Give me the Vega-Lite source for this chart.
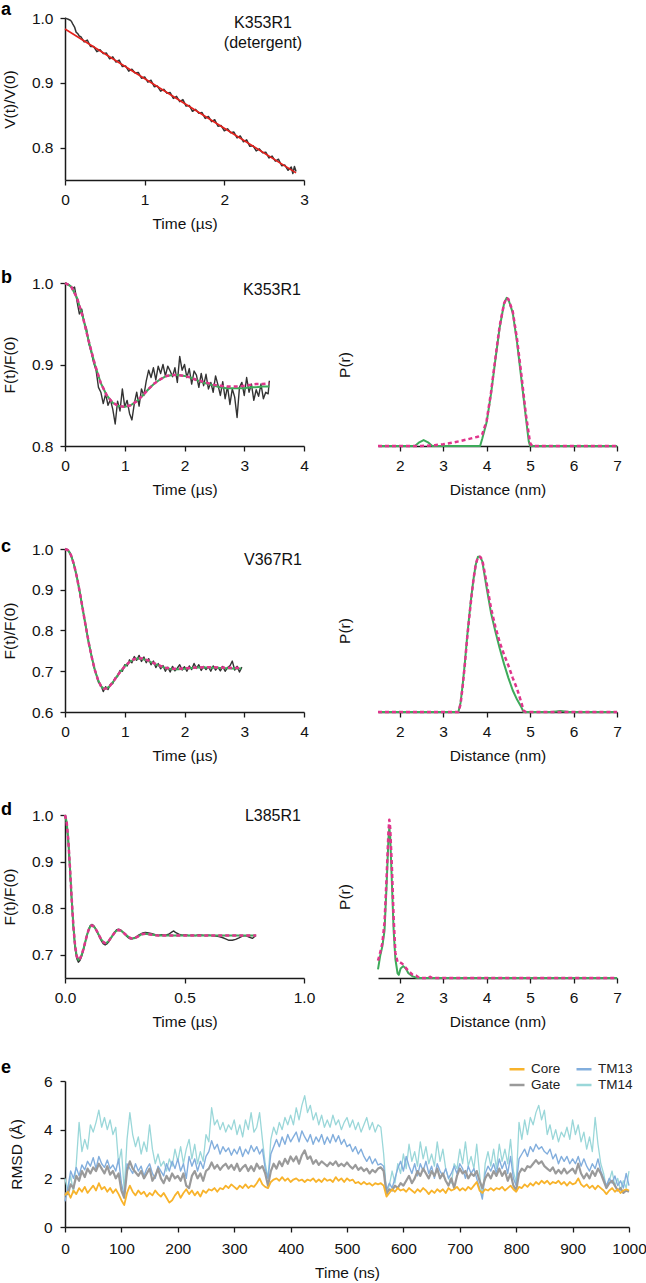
{
"$schema": "https://vega.github.io/schema/vega-lite/v6.json",
"padding": {"left": 1, "top": 1, "right": 0, "bottom": 0},
"background": "white",
"columns": 2,
"bounds": "flush",
"align": "each",
"spacing": {"row": 103, "column": 74},
"resolve": {"scale": {"color": "independent"}, "legend": {"color": "independent"}},
"config": {
  "font": "Liberation Sans",
  "view": {"stroke": null},
  "axis": {"grid": false, "domainColor": "#1a1a1a", "domainWidth": 1.5, "tickColor": "#1a1a1a", "tickWidth": 1.3, "tickSize": 5, "labelFont": "Liberation Sans", "labelFontSize": 15.5, "labelColor": "#111", "labelPadding": 7, "labelFlush": false, "labelOverlap": false, "titleFont": "Liberation Sans", "titleFontSize": 15.5, "titleFontWeight": "normal", "titleColor": "#111", "titlePadding": 9},
  "axisY": {"titlePadding": 14},
  "text": {"font": "Liberation Sans", "fontSize": 16, "color": "#111"},
  "line": {"strokeJoin": "round"},
  "title": {"anchor": "start", "frame": "group", "dx": -64, "fontSize": 18, "fontWeight": "bold", "font": "Liberation Sans", "color": "#000"}
},
"datasets": {
  "a_trace": [{"x":0,"y":1.0},{"x":0.02,"y":0.999},{"x":0.04,"y":0.998},{"x":0.06,"y":0.997},{"x":0.08,"y":0.995},{"x":0.1,"y":0.99},{"x":0.12,"y":0.986},{"x":0.14,"y":0.978},{"x":0.16,"y":0.976},{"x":0.18,"y":0.972},{"x":0.2,"y":0.971},{"x":0.24,"y":0.963},{"x":0.28,"y":0.966},{"x":0.32,"y":0.956},{"x":0.36,"y":0.956},{"x":0.4,"y":0.948},{"x":0.44,"y":0.951},{"x":0.48,"y":0.945},{"x":0.52,"y":0.946},{"x":0.56,"y":0.937},{"x":0.6,"y":0.94},{"x":0.64,"y":0.932},{"x":0.68,"y":0.935},{"x":0.72,"y":0.925},{"x":0.76,"y":0.926},{"x":0.8,"y":0.918},{"x":0.84,"y":0.921},{"x":0.88,"y":0.915},{"x":0.92,"y":0.916},{"x":0.96,"y":0.907},{"x":1.0,"y":0.909},{"x":1.04,"y":0.901},{"x":1.08,"y":0.904},{"x":1.12,"y":0.894},{"x":1.16,"y":0.895},{"x":1.2,"y":0.887},{"x":1.24,"y":0.89},{"x":1.28,"y":0.884},{"x":1.32,"y":0.885},{"x":1.36,"y":0.876},{"x":1.4,"y":0.879},{"x":1.44,"y":0.871},{"x":1.48,"y":0.874},{"x":1.52,"y":0.864},{"x":1.56,"y":0.865},{"x":1.6,"y":0.856},{"x":1.64,"y":0.859},{"x":1.68,"y":0.853},{"x":1.72,"y":0.854},{"x":1.76,"y":0.845},{"x":1.8,"y":0.848},{"x":1.84,"y":0.84},{"x":1.88,"y":0.843},{"x":1.92,"y":0.833},{"x":1.96,"y":0.834},{"x":2.0,"y":0.826},{"x":2.04,"y":0.829},{"x":2.08,"y":0.823},{"x":2.12,"y":0.824},{"x":2.16,"y":0.815},{"x":2.2,"y":0.818},{"x":2.24,"y":0.809},{"x":2.28,"y":0.812},{"x":2.32,"y":0.802},{"x":2.36,"y":0.803},{"x":2.4,"y":0.795},{"x":2.44,"y":0.798},{"x":2.48,"y":0.792},{"x":2.52,"y":0.793},{"x":2.56,"y":0.784},{"x":2.6,"y":0.787},{"x":2.64,"y":0.779},{"x":2.68,"y":0.782},{"x":2.72,"y":0.772},{"x":2.76,"y":0.773},{"x":2.8,"y":0.765},{"x":2.84,"y":0.77},{"x":2.86,"y":0.76},{"x":2.88,"y":0.771},{"x":2.9,"y":0.763}],
  "a_fit": [{"x":0,"y":0.983},{"x":2.9,"y":0.761}],
  "b_trace": [{"x":0,"y":1.0},{"x":0.04,"y":0.999},{"x":0.08,"y":0.997},{"x":0.12,"y":0.993},{"x":0.16,"y":0.995},{"x":0.2,"y":0.978},{"x":0.24,"y":0.962},{"x":0.28,"y":0.968},{"x":0.32,"y":0.952},{"x":0.36,"y":0.944},{"x":0.4,"y":0.925},{"x":0.44,"y":0.915},{"x":0.48,"y":0.902},{"x":0.52,"y":0.893},{"x":0.56,"y":0.872},{"x":0.6,"y":0.866},{"x":0.64,"y":0.852},{"x":0.68,"y":0.864},{"x":0.72,"y":0.85},{"x":0.76,"y":0.857},{"x":0.8,"y":0.845},{"x":0.84,"y":0.827},{"x":0.88,"y":0.855},{"x":0.92,"y":0.843},{"x":0.96,"y":0.87},{"x":1.0,"y":0.848},{"x":1.04,"y":0.856},{"x":1.08,"y":0.84},{"x":1.12,"y":0.832},{"x":1.16,"y":0.852},{"x":1.2,"y":0.866},{"x":1.24,"y":0.849},{"x":1.28,"y":0.87},{"x":1.32,"y":0.862},{"x":1.36,"y":0.88},{"x":1.4,"y":0.893},{"x":1.44,"y":0.884},{"x":1.48,"y":0.896},{"x":1.52,"y":0.881},{"x":1.56,"y":0.898},{"x":1.6,"y":0.889},{"x":1.64,"y":0.9},{"x":1.68,"y":0.886},{"x":1.72,"y":0.898},{"x":1.76,"y":0.892},{"x":1.8,"y":0.885},{"x":1.84,"y":0.896},{"x":1.88,"y":0.878},{"x":1.92,"y":0.91},{"x":1.96,"y":0.893},{"x":2.0,"y":0.9},{"x":2.04,"y":0.884},{"x":2.08,"y":0.895},{"x":2.12,"y":0.876},{"x":2.16,"y":0.892},{"x":2.2,"y":0.887},{"x":2.24,"y":0.872},{"x":2.28,"y":0.889},{"x":2.32,"y":0.874},{"x":2.36,"y":0.888},{"x":2.4,"y":0.87},{"x":2.44,"y":0.878},{"x":2.48,"y":0.866},{"x":2.52,"y":0.886},{"x":2.56,"y":0.875},{"x":2.6,"y":0.862},{"x":2.64,"y":0.879},{"x":2.68,"y":0.858},{"x":2.72,"y":0.873},{"x":2.76,"y":0.851},{"x":2.8,"y":0.87},{"x":2.84,"y":0.86},{"x":2.88,"y":0.835},{"x":2.92,"y":0.872},{"x":2.96,"y":0.878},{"x":3.0,"y":0.862},{"x":3.04,"y":0.884},{"x":3.08,"y":0.866},{"x":3.12,"y":0.876},{"x":3.16,"y":0.856},{"x":3.2,"y":0.869},{"x":3.24,"y":0.861},{"x":3.28,"y":0.876},{"x":3.32,"y":0.858},{"x":3.36,"y":0.866},{"x":3.4,"y":0.864},{"x":3.42,"y":0.88}],
  "b_green": [{"x":0,"y":1.0},{"x":0.1,"y":0.996},{"x":0.2,"y":0.982},{"x":0.3,"y":0.958},{"x":0.4,"y":0.928},{"x":0.5,"y":0.9},{"x":0.6,"y":0.877},{"x":0.7,"y":0.862},{"x":0.8,"y":0.853},{"x":0.9,"y":0.849},{"x":1.0,"y":0.848},{"x":1.1,"y":0.85},{"x":1.2,"y":0.855},{"x":1.3,"y":0.862},{"x":1.4,"y":0.87},{"x":1.5,"y":0.877},{"x":1.6,"y":0.882},{"x":1.7,"y":0.886},{"x":1.8,"y":0.887},{"x":1.9,"y":0.887},{"x":2.0,"y":0.886},{"x":2.1,"y":0.884},{"x":2.2,"y":0.881},{"x":2.3,"y":0.878},{"x":2.4,"y":0.876},{"x":2.5,"y":0.874},{"x":2.6,"y":0.872},{"x":2.7,"y":0.871},{"x":2.8,"y":0.871},{"x":2.9,"y":0.871},{"x":3.0,"y":0.871},{"x":3.1,"y":0.872},{"x":3.2,"y":0.872},{"x":3.3,"y":0.873},{"x":3.42,"y":0.873}],
  "b_pink": [{"x":0,"y":1.0},{"x":0.1,"y":0.996},{"x":0.2,"y":0.982},{"x":0.3,"y":0.958},{"x":0.4,"y":0.928},{"x":0.5,"y":0.9},{"x":0.6,"y":0.877},{"x":0.7,"y":0.862},{"x":0.8,"y":0.853},{"x":0.9,"y":0.849},{"x":1.0,"y":0.848},{"x":1.1,"y":0.85},{"x":1.2,"y":0.855},{"x":1.3,"y":0.862},{"x":1.4,"y":0.87},{"x":1.5,"y":0.877},{"x":1.6,"y":0.882},{"x":1.7,"y":0.886},{"x":1.8,"y":0.887},{"x":1.9,"y":0.887},{"x":2.0,"y":0.886},{"x":2.1,"y":0.884},{"x":2.2,"y":0.881},{"x":2.3,"y":0.879},{"x":2.4,"y":0.877},{"x":2.5,"y":0.875},{"x":2.6,"y":0.874},{"x":2.7,"y":0.873},{"x":2.8,"y":0.873},{"x":2.9,"y":0.873},{"x":3.0,"y":0.874},{"x":3.1,"y":0.875},{"x":3.2,"y":0.876},{"x":3.3,"y":0.876},{"x":3.42,"y":0.877}],
  "bd_green": [{"x":1.5,"y":0},{"x":2.35,"y":0},{"x":2.45,"y":0.025},{"x":2.55,"y":0.04},{"x":2.65,"y":0.025},{"x":2.75,"y":0},{"x":3.85,"y":0},{"x":3.9,"y":0.05},{"x":4.0,"y":0.16},{"x":4.1,"y":0.35},{"x":4.2,"y":0.58},{"x":4.3,"y":0.8},{"x":4.4,"y":0.96},{"x":4.46,"y":1.0},{"x":4.5,"y":0.99},{"x":4.6,"y":0.9},{"x":4.7,"y":0.7},{"x":4.8,"y":0.45},{"x":4.9,"y":0.2},{"x":4.97,"y":0.03},{"x":5.0,"y":0},{"x":7,"y":0}],
  "bd_pink": [{"x":1.5,"y":0},{"x":2.5,"y":0},{"x":2.8,"y":0.005},{"x":3.0,"y":0.012},{"x":3.2,"y":0.022},{"x":3.4,"y":0.034},{"x":3.6,"y":0.048},{"x":3.8,"y":0.063},{"x":3.9,"y":0.08},{"x":4.0,"y":0.17},{"x":4.1,"y":0.36},{"x":4.2,"y":0.59},{"x":4.3,"y":0.81},{"x":4.4,"y":0.96},{"x":4.46,"y":1.0},{"x":4.5,"y":0.99},{"x":4.6,"y":0.91},{"x":4.7,"y":0.72},{"x":4.8,"y":0.48},{"x":4.9,"y":0.22},{"x":5.0,"y":0.02},{"x":5.05,"y":0},{"x":7,"y":0}],
  "c_trace": [{"x":0,"y":1.0},{"x":0.04,"y":0.999},{"x":0.08,"y":0.992},{"x":0.12,"y":0.977},{"x":0.16,"y":0.955},{"x":0.2,"y":0.932},{"x":0.24,"y":0.899},{"x":0.28,"y":0.868},{"x":0.32,"y":0.832},{"x":0.36,"y":0.801},{"x":0.4,"y":0.766},{"x":0.44,"y":0.741},{"x":0.48,"y":0.712},{"x":0.52,"y":0.694},{"x":0.56,"y":0.673},{"x":0.6,"y":0.666},{"x":0.64,"y":0.65},{"x":0.68,"y":0.662},{"x":0.72,"y":0.655},{"x":0.76,"y":0.668},{"x":0.8,"y":0.67},{"x":0.84,"y":0.684},{"x":0.88,"y":0.687},{"x":0.92,"y":0.702},{"x":0.96,"y":0.7},{"x":1.0,"y":0.716},{"x":1.04,"y":0.713},{"x":1.08,"y":0.728},{"x":1.12,"y":0.721},{"x":1.16,"y":0.736},{"x":1.2,"y":0.727},{"x":1.24,"y":0.739},{"x":1.28,"y":0.724},{"x":1.32,"y":0.735},{"x":1.36,"y":0.721},{"x":1.4,"y":0.731},{"x":1.44,"y":0.716},{"x":1.48,"y":0.725},{"x":1.52,"y":0.709},{"x":1.56,"y":0.719},{"x":1.6,"y":0.706},{"x":1.64,"y":0.714},{"x":1.68,"y":0.7},{"x":1.72,"y":0.71},{"x":1.76,"y":0.698},{"x":1.8,"y":0.712},{"x":1.84,"y":0.701},{"x":1.88,"y":0.708},{"x":1.92,"y":0.716},{"x":1.96,"y":0.703},{"x":2.0,"y":0.711},{"x":2.04,"y":0.7},{"x":2.08,"y":0.713},{"x":2.12,"y":0.704},{"x":2.16,"y":0.719},{"x":2.2,"y":0.707},{"x":2.24,"y":0.716},{"x":2.28,"y":0.702},{"x":2.32,"y":0.712},{"x":2.36,"y":0.704},{"x":2.4,"y":0.711},{"x":2.44,"y":0.7},{"x":2.48,"y":0.713},{"x":2.52,"y":0.703},{"x":2.56,"y":0.71},{"x":2.6,"y":0.701},{"x":2.64,"y":0.712},{"x":2.68,"y":0.7},{"x":2.72,"y":0.709},{"x":2.76,"y":0.713},{"x":2.8,"y":0.725},{"x":2.84,"y":0.703},{"x":2.88,"y":0.712},{"x":2.92,"y":0.698},{"x":2.96,"y":0.71}],
  "c_green": [{"x":0,"y":1.0},{"x":0.05,"y":0.997},{"x":0.1,"y":0.985},{"x":0.15,"y":0.962},{"x":0.2,"y":0.93},{"x":0.25,"y":0.892},{"x":0.3,"y":0.85},{"x":0.35,"y":0.808},{"x":0.4,"y":0.768},{"x":0.45,"y":0.733},{"x":0.5,"y":0.703},{"x":0.55,"y":0.68},{"x":0.6,"y":0.664},{"x":0.65,"y":0.657},{"x":0.7,"y":0.658},{"x":0.75,"y":0.664},{"x":0.8,"y":0.673},{"x":0.9,"y":0.694},{"x":1.0,"y":0.712},{"x":1.1,"y":0.725},{"x":1.2,"y":0.731},{"x":1.3,"y":0.73},{"x":1.4,"y":0.725},{"x":1.5,"y":0.718},{"x":1.6,"y":0.712},{"x":1.7,"y":0.707},{"x":1.8,"y":0.705},{"x":1.9,"y":0.705},{"x":2.0,"y":0.706},{"x":2.2,"y":0.709},{"x":2.4,"y":0.709},{"x":2.6,"y":0.708},{"x":2.8,"y":0.707},{"x":2.95,"y":0.707}],
  "c_pink": [{"x":0,"y":1.0},{"x":0.05,"y":0.997},{"x":0.1,"y":0.985},{"x":0.15,"y":0.962},{"x":0.2,"y":0.93},{"x":0.25,"y":0.892},{"x":0.3,"y":0.85},{"x":0.35,"y":0.808},{"x":0.4,"y":0.768},{"x":0.45,"y":0.733},{"x":0.5,"y":0.703},{"x":0.55,"y":0.68},{"x":0.6,"y":0.664},{"x":0.65,"y":0.657},{"x":0.7,"y":0.658},{"x":0.75,"y":0.664},{"x":0.8,"y":0.673},{"x":0.9,"y":0.694},{"x":1.0,"y":0.712},{"x":1.1,"y":0.726},{"x":1.2,"y":0.732},{"x":1.3,"y":0.731},{"x":1.4,"y":0.726},{"x":1.5,"y":0.719},{"x":1.6,"y":0.713},{"x":1.7,"y":0.708},{"x":1.8,"y":0.706},{"x":1.9,"y":0.706},{"x":2.0,"y":0.707},{"x":2.2,"y":0.709},{"x":2.4,"y":0.71},{"x":2.6,"y":0.709},{"x":2.8,"y":0.708},{"x":2.95,"y":0.708}],
  "cd_green": [{"x":1.5,"y":0},{"x":3.35,"y":0},{"x":3.4,"y":0.06},{"x":3.45,"y":0.18},{"x":3.5,"y":0.32},{"x":3.55,"y":0.48},{"x":3.6,"y":0.62},{"x":3.65,"y":0.75},{"x":3.7,"y":0.86},{"x":3.75,"y":0.95},{"x":3.8,"y":1.0},{"x":3.85,"y":1.0},{"x":3.9,"y":0.97},{"x":4.0,"y":0.8},{"x":4.1,"y":0.64},{"x":4.2,"y":0.52},{"x":4.3,"y":0.41},{"x":4.4,"y":0.31},{"x":4.5,"y":0.22},{"x":4.6,"y":0.14},{"x":4.7,"y":0.08},{"x":4.8,"y":0.03},{"x":4.85,"y":0},{"x":5.5,"y":0},{"x":5.7,"y":0.006},{"x":5.9,"y":0},{"x":7,"y":0}],
  "cd_pink": [{"x":1.5,"y":0},{"x":3.35,"y":0},{"x":3.4,"y":0.05},{"x":3.45,"y":0.17},{"x":3.5,"y":0.31},{"x":3.55,"y":0.47},{"x":3.6,"y":0.61},{"x":3.65,"y":0.74},{"x":3.7,"y":0.86},{"x":3.75,"y":0.95},{"x":3.8,"y":1.0},{"x":3.85,"y":1.0},{"x":3.9,"y":0.98},{"x":4.0,"y":0.83},{"x":4.1,"y":0.67},{"x":4.2,"y":0.55},{"x":4.3,"y":0.45},{"x":4.4,"y":0.37},{"x":4.5,"y":0.3},{"x":4.6,"y":0.22},{"x":4.7,"y":0.15},{"x":4.8,"y":0.06},{"x":4.85,"y":0.01},{"x":4.9,"y":0},{"x":7,"y":0}],
  "d_trace": [{"x":0,"y":1.0},{"x":0.007,"y":0.983},{"x":0.014,"y":0.94},{"x":0.021,"y":0.878},{"x":0.028,"y":0.815},{"x":0.035,"y":0.757},{"x":0.042,"y":0.715},{"x":0.049,"y":0.692},{"x":0.056,"y":0.684},{"x":0.063,"y":0.688},{"x":0.07,"y":0.697},{"x":0.077,"y":0.71},{"x":0.084,"y":0.725},{"x":0.091,"y":0.74},{"x":0.098,"y":0.753},{"x":0.105,"y":0.762},{"x":0.112,"y":0.765},{"x":0.119,"y":0.763},{"x":0.126,"y":0.758},{"x":0.133,"y":0.751},{"x":0.14,"y":0.743},{"x":0.147,"y":0.735},{"x":0.154,"y":0.728},{"x":0.161,"y":0.723},{"x":0.168,"y":0.721},{"x":0.175,"y":0.723},{"x":0.182,"y":0.727},{"x":0.189,"y":0.733},{"x":0.196,"y":0.739},{"x":0.203,"y":0.745},{"x":0.21,"y":0.75},{"x":0.217,"y":0.754},{"x":0.224,"y":0.755},{"x":0.231,"y":0.754},{"x":0.238,"y":0.751},{"x":0.245,"y":0.747},{"x":0.252,"y":0.743},{"x":0.259,"y":0.739},{"x":0.266,"y":0.736},{"x":0.273,"y":0.734},{"x":0.28,"y":0.734},{"x":0.294,"y":0.737},{"x":0.308,"y":0.742},{"x":0.322,"y":0.746},{"x":0.336,"y":0.748},{"x":0.35,"y":0.747},{"x":0.364,"y":0.745},{"x":0.378,"y":0.743},{"x":0.392,"y":0.742},{"x":0.406,"y":0.743},{"x":0.42,"y":0.742},{"x":0.434,"y":0.744},{"x":0.448,"y":0.749},{"x":0.455,"y":0.751},{"x":0.462,"y":0.748},{"x":0.476,"y":0.744},{"x":0.49,"y":0.742},{"x":0.504,"y":0.743},{"x":0.518,"y":0.741},{"x":0.532,"y":0.742},{"x":0.546,"y":0.741},{"x":0.56,"y":0.743},{"x":0.574,"y":0.742},{"x":0.588,"y":0.741},{"x":0.602,"y":0.742},{"x":0.616,"y":0.741},{"x":0.63,"y":0.74},{"x":0.644,"y":0.739},{"x":0.658,"y":0.737},{"x":0.672,"y":0.734},{"x":0.686,"y":0.731},{"x":0.7,"y":0.731},{"x":0.714,"y":0.733},{"x":0.728,"y":0.736},{"x":0.742,"y":0.74},{"x":0.756,"y":0.741},{"x":0.77,"y":0.738},{"x":0.784,"y":0.735},{"x":0.798,"y":0.741}],
  "d_fit": [{"x":0,"y":1.0},{"x":0.007,"y":0.985},{"x":0.014,"y":0.945},{"x":0.021,"y":0.885},{"x":0.028,"y":0.82},{"x":0.035,"y":0.762},{"x":0.042,"y":0.72},{"x":0.049,"y":0.697},{"x":0.056,"y":0.689},{"x":0.063,"y":0.692},{"x":0.07,"y":0.7},{"x":0.077,"y":0.712},{"x":0.084,"y":0.726},{"x":0.091,"y":0.74},{"x":0.098,"y":0.752},{"x":0.105,"y":0.76},{"x":0.112,"y":0.763},{"x":0.119,"y":0.761},{"x":0.126,"y":0.757},{"x":0.133,"y":0.751},{"x":0.14,"y":0.744},{"x":0.147,"y":0.737},{"x":0.154,"y":0.731},{"x":0.161,"y":0.727},{"x":0.168,"y":0.725},{"x":0.175,"y":0.726},{"x":0.182,"y":0.729},{"x":0.189,"y":0.734},{"x":0.196,"y":0.739},{"x":0.203,"y":0.744},{"x":0.21,"y":0.749},{"x":0.217,"y":0.752},{"x":0.224,"y":0.753},{"x":0.231,"y":0.752},{"x":0.238,"y":0.75},{"x":0.245,"y":0.747},{"x":0.252,"y":0.744},{"x":0.259,"y":0.741},{"x":0.266,"y":0.738},{"x":0.273,"y":0.736},{"x":0.28,"y":0.735},{"x":0.294,"y":0.736},{"x":0.308,"y":0.74},{"x":0.322,"y":0.744},{"x":0.336,"y":0.745},{"x":0.35,"y":0.744},{"x":0.364,"y":0.743},{"x":0.392,"y":0.741},{"x":0.45,"y":0.741},{"x":0.6,"y":0.741},{"x":0.8,"y":0.741}],
  "dd_green": [{"x":1.5,"y":0.055},{"x":1.55,"y":0.14},{"x":1.6,"y":0.2},{"x":1.65,"y":0.3},{"x":1.7,"y":0.6},{"x":1.74,"y":0.88},{"x":1.76,"y":0.95},{"x":1.78,"y":0.9},{"x":1.82,"y":0.6},{"x":1.86,"y":0.3},{"x":1.9,"y":0.12},{"x":1.95,"y":0.03},{"x":1.98,"y":0.02},{"x":2.02,"y":0.06},{"x":2.08,"y":0.075},{"x":2.14,"y":0.06},{"x":2.2,"y":0.03},{"x":2.3,"y":0.01},{"x":2.4,"y":0},{"x":7,"y":0}],
  "dd_pink": [{"x":1.5,"y":0.11},{"x":1.55,"y":0.16},{"x":1.6,"y":0.22},{"x":1.65,"y":0.35},{"x":1.7,"y":0.65},{"x":1.74,"y":0.92},{"x":1.76,"y":1.0},{"x":1.78,"y":0.95},{"x":1.82,"y":0.7},{"x":1.86,"y":0.38},{"x":1.9,"y":0.16},{"x":1.95,"y":0.1},{"x":2.0,"y":0.1},{"x":2.06,"y":0.09},{"x":2.12,"y":0.07},{"x":2.2,"y":0.045},{"x":2.3,"y":0.02},{"x":2.38,"y":0.015},{"x":2.45,"y":0},{"x":2.65,"y":0},{"x":2.7,"y":0.008},{"x":2.75,"y":0},{"x":7,"y":0}],
  "e": [
{"t":0,"Core":1.3,"Gate":1.4,"TM13":1.05,"TM14":2.0},{"t":5,"Core":1.45,"Gate":1.35,"TM13":1.6,"TM14":1.5},{"t":10,"Core":1.2,"Gate":1.75,"TM13":2.3,"TM14":2.1},{"t":15,"Core":1.5,"Gate":1.6,"TM13":2.0,"TM14":1.4},{"t":20,"Core":1.35,"Gate":2.1,"TM13":2.45,"TM14":2.6},{"t":25,"Core":1.6,"Gate":1.9,"TM13":2.1,"TM14":4.3},{"t":30,"Core":1.45,"Gate":2.3,"TM13":2.55,"TM14":3.1},{"t":35,"Core":1.65,"Gate":2.05,"TM13":2.35,"TM14":3.6},{"t":40,"Core":1.4,"Gate":2.4,"TM13":2.7,"TM14":3.2},{"t":45,"Core":1.55,"Gate":2.2,"TM13":2.5,"TM14":4.2},
{"t":50,"Core":1.7,"Gate":2.45,"TM13":2.85,"TM14":3.9},{"t":55,"Core":1.5,"Gate":2.3,"TM13":2.4,"TM14":4.3},{"t":60,"Core":1.8,"Gate":2.6,"TM13":2.9,"TM14":4.8},{"t":65,"Core":1.55,"Gate":2.4,"TM13":2.6,"TM14":4.1},{"t":70,"Core":1.65,"Gate":2.2,"TM13":2.45,"TM14":4.5},{"t":75,"Core":1.45,"Gate":2.5,"TM13":2.75,"TM14":4.0},{"t":80,"Core":1.6,"Gate":2.15,"TM13":2.4,"TM14":4.4},{"t":85,"Core":1.4,"Gate":2.3,"TM13":2.55,"TM14":3.8},{"t":90,"Core":1.55,"Gate":2.0,"TM13":2.3,"TM14":4.1},{"t":95,"Core":1.35,"Gate":2.2,"TM13":2.8,"TM14":2.6},
{"t":100,"Core":1.1,"Gate":1.5,"TM13":1.8,"TM14":3.2},{"t":105,"Core":0.9,"Gate":1.2,"TM13":1.3,"TM14":1.5},{"t":110,"Core":1.4,"Gate":2.3,"TM13":2.6,"TM14":3.6},{"t":115,"Core":1.7,"Gate":2.7,"TM13":2.4,"TM14":4.7},{"t":120,"Core":1.45,"Gate":2.4,"TM13":2.2,"TM14":3.8},{"t":125,"Core":1.3,"Gate":2.25,"TM13":2.6,"TM14":3.3},{"t":130,"Core":1.5,"Gate":2.1,"TM13":2.3,"TM14":3.7},{"t":135,"Core":1.35,"Gate":2.3,"TM13":2.5,"TM14":3.0},{"t":140,"Core":1.45,"Gate":2.0,"TM13":2.1,"TM14":3.5},{"t":145,"Core":1.25,"Gate":2.2,"TM13":2.4,"TM14":3.1},
{"t":150,"Core":1.4,"Gate":2.4,"TM13":2.6,"TM14":4.2},{"t":155,"Core":1.3,"Gate":1.9,"TM13":2.2,"TM14":3.2},{"t":160,"Core":1.5,"Gate":2.1,"TM13":2.0,"TM14":2.6},{"t":165,"Core":1.35,"Gate":2.4,"TM13":2.5,"TM14":3.0},{"t":170,"Core":1.25,"Gate":2.0,"TM13":2.3,"TM14":2.5},{"t":175,"Core":1.4,"Gate":1.8,"TM13":2.1,"TM14":2.7},{"t":180,"Core":1.2,"Gate":2.1,"TM13":2.6,"TM14":2.3},{"t":185,"Core":1.0,"Gate":1.9,"TM13":2.3,"TM14":2.8},{"t":190,"Core":1.1,"Gate":2.2,"TM13":2.7,"TM14":2.5},{"t":195,"Core":1.3,"Gate":2.0,"TM13":2.4,"TM14":3.2},
{"t":200,"Core":1.45,"Gate":2.1,"TM13":2.8,"TM14":2.7},{"t":205,"Core":1.2,"Gate":1.9,"TM13":2.3,"TM14":3.3},{"t":210,"Core":1.4,"Gate":2.2,"TM13":2.6,"TM14":2.6},{"t":215,"Core":1.55,"Gate":1.7,"TM13":2.0,"TM14":3.2},{"t":220,"Core":1.35,"Gate":1.6,"TM13":2.9,"TM14":3.6},{"t":225,"Core":1.5,"Gate":2.1,"TM13":2.5,"TM14":2.8},{"t":230,"Core":1.3,"Gate":2.3,"TM13":2.8,"TM14":3.4},{"t":235,"Core":1.45,"Gate":2.0,"TM13":2.3,"TM14":2.6},{"t":240,"Core":1.25,"Gate":2.2,"TM13":2.7,"TM14":3.1},{"t":245,"Core":1.5,"Gate":1.9,"TM13":2.4,"TM14":2.7},
{"t":250,"Core":1.4,"Gate":2.3,"TM13":2.9,"TM14":3.8},{"t":255,"Core":1.55,"Gate":2.4,"TM13":3.1,"TM14":3.5},{"t":260,"Core":1.5,"Gate":2.65,"TM13":3.55,"TM14":4.9},{"t":265,"Core":1.6,"Gate":2.4,"TM13":3.2,"TM14":4.2},{"t":270,"Core":1.45,"Gate":2.55,"TM13":3.4,"TM14":4.4},{"t":275,"Core":1.6,"Gate":2.35,"TM13":3.0,"TM14":4.0},{"t":280,"Core":1.55,"Gate":2.5,"TM13":3.3,"TM14":4.3},{"t":285,"Core":1.7,"Gate":2.6,"TM13":3.1,"TM14":3.9},{"t":290,"Core":1.6,"Gate":2.4,"TM13":3.25,"TM14":4.2},{"t":295,"Core":1.75,"Gate":2.55,"TM13":2.95,"TM14":4.0},
{"t":300,"Core":1.65,"Gate":2.35,"TM13":3.2,"TM14":4.4},{"t":305,"Core":1.55,"Gate":2.6,"TM13":3.0,"TM14":3.8},{"t":310,"Core":1.7,"Gate":2.3,"TM13":3.3,"TM14":4.2},{"t":315,"Core":1.6,"Gate":2.45,"TM13":2.9,"TM14":3.7},{"t":320,"Core":1.75,"Gate":2.55,"TM13":3.2,"TM14":4.4},{"t":325,"Core":1.6,"Gate":2.3,"TM13":3.0,"TM14":4.0},{"t":330,"Core":1.7,"Gate":2.5,"TM13":3.35,"TM14":4.7},{"t":335,"Core":1.65,"Gate":2.3,"TM13":3.1,"TM14":3.9},{"t":340,"Core":1.8,"Gate":2.6,"TM13":3.3,"TM14":4.1},{"t":345,"Core":2.0,"Gate":2.4,"TM13":3.0,"TM14":4.7},
{"t":350,"Core":1.75,"Gate":2.5,"TM13":3.2,"TM14":3.6},{"t":355,"Core":1.65,"Gate":2.2,"TM13":2.4,"TM14":2.6},{"t":360,"Core":1.6,"Gate":1.7,"TM13":2.0,"TM14":2.0},{"t":365,"Core":1.85,"Gate":2.3,"TM13":3.0,"TM14":3.6},{"t":370,"Core":1.95,"Gate":2.6,"TM13":3.3,"TM14":4.1},{"t":375,"Core":2.0,"Gate":2.4,"TM13":3.6,"TM14":3.8},{"t":380,"Core":1.9,"Gate":2.7,"TM13":3.3,"TM14":4.3},{"t":385,"Core":2.05,"Gate":2.5,"TM13":3.7,"TM14":4.0},{"t":390,"Core":1.9,"Gate":2.8,"TM13":3.4,"TM14":4.5},{"t":395,"Core":2.0,"Gate":2.6,"TM13":3.8,"TM14":4.2},
{"t":400,"Core":1.85,"Gate":2.9,"TM13":3.5,"TM14":4.6},{"t":405,"Core":1.95,"Gate":2.7,"TM13":3.7,"TM14":4.2},{"t":410,"Core":2.0,"Gate":2.9,"TM13":3.9,"TM14":4.9},{"t":415,"Core":1.9,"Gate":2.6,"TM13":3.5,"TM14":4.4},{"t":420,"Core":1.95,"Gate":2.95,"TM13":3.95,"TM14":5.0},{"t":425,"Core":1.85,"Gate":3.15,"TM13":3.7,"TM14":5.4},{"t":430,"Core":1.95,"Gate":2.8,"TM13":3.5,"TM14":4.7},{"t":435,"Core":1.9,"Gate":2.9,"TM13":3.8,"TM14":5.0},{"t":440,"Core":2.0,"Gate":2.6,"TM13":3.4,"TM14":4.4},{"t":445,"Core":1.85,"Gate":2.75,"TM13":3.7,"TM14":4.7},
{"t":450,"Core":1.95,"Gate":2.55,"TM13":3.5,"TM14":4.2},{"t":455,"Core":1.85,"Gate":2.7,"TM13":3.8,"TM14":4.6},{"t":460,"Core":2.0,"Gate":2.6,"TM13":3.4,"TM14":4.1},{"t":465,"Core":1.9,"Gate":2.5,"TM13":3.7,"TM14":4.4},{"t":470,"Core":1.95,"Gate":2.65,"TM13":3.45,"TM14":4.1},{"t":475,"Core":1.85,"Gate":2.55,"TM13":3.8,"TM14":4.6},{"t":480,"Core":2.05,"Gate":2.7,"TM13":3.5,"TM14":4.2},{"t":485,"Core":1.9,"Gate":2.5,"TM13":3.75,"TM14":4.4},{"t":490,"Core":2.0,"Gate":2.6,"TM13":3.4,"TM14":4.0},{"t":495,"Core":1.85,"Gate":2.5,"TM13":3.6,"TM14":4.3},
{"t":500,"Core":2.0,"Gate":2.65,"TM13":3.3,"TM14":4.5},{"t":505,"Core":1.9,"Gate":2.5,"TM13":3.4,"TM14":4.1},{"t":510,"Core":1.95,"Gate":2.4,"TM13":3.1,"TM14":4.4},{"t":515,"Core":1.8,"Gate":2.55,"TM13":3.3,"TM14":4.0},{"t":520,"Core":1.85,"Gate":2.35,"TM13":3.0,"TM14":4.3},{"t":525,"Core":1.75,"Gate":2.45,"TM13":3.2,"TM14":3.9},{"t":530,"Core":1.85,"Gate":2.3,"TM13":2.9,"TM14":4.2},{"t":535,"Core":1.75,"Gate":2.4,"TM13":2.7,"TM14":4.5},{"t":540,"Core":1.8,"Gate":2.2,"TM13":2.9,"TM14":4.0},{"t":545,"Core":1.7,"Gate":2.35,"TM13":2.6,"TM14":4.3},
{"t":550,"Core":1.8,"Gate":2.25,"TM13":2.8,"TM14":3.9},{"t":555,"Core":1.75,"Gate":2.4,"TM13":2.55,"TM14":4.2},{"t":560,"Core":1.8,"Gate":2.45,"TM13":2.6,"TM14":4.1},{"t":565,"Core":1.7,"Gate":2.3,"TM13":2.5,"TM14":3.0},{"t":570,"Core":1.25,"Gate":1.35,"TM13":1.5,"TM14":1.4},{"t":575,"Core":1.4,"Gate":1.55,"TM13":1.8,"TM14":1.7},{"t":580,"Core":1.55,"Gate":1.5,"TM13":1.6,"TM14":2.3},{"t":585,"Core":1.45,"Gate":1.7,"TM13":2.0,"TM14":1.8},{"t":590,"Core":1.6,"Gate":1.6,"TM13":2.4,"TM14":2.6},{"t":595,"Core":1.5,"Gate":1.8,"TM13":2.7,"TM14":2.2},
{"t":600,"Core":1.55,"Gate":1.7,"TM13":2.3,"TM14":3.0},{"t":605,"Core":1.45,"Gate":1.9,"TM13":2.9,"TM14":2.4},{"t":610,"Core":1.6,"Gate":2.1,"TM13":2.5,"TM14":3.4},{"t":615,"Core":1.5,"Gate":1.8,"TM13":2.2,"TM14":2.7},{"t":620,"Core":1.4,"Gate":2.0,"TM13":2.6,"TM14":3.1},{"t":625,"Core":1.55,"Gate":2.3,"TM13":2.1,"TM14":2.5},{"t":630,"Core":1.45,"Gate":2.1,"TM13":2.6,"TM14":3.5},{"t":635,"Core":1.6,"Gate":2.4,"TM13":2.3,"TM14":2.8},{"t":640,"Core":1.5,"Gate":2.2,"TM13":2.7,"TM14":3.3},{"t":645,"Core":1.35,"Gate":2.0,"TM13":2.2,"TM14":2.6},
{"t":650,"Core":1.5,"Gate":2.3,"TM13":2.5,"TM14":3.0},{"t":655,"Core":1.4,"Gate":2.1,"TM13":2.0,"TM14":2.5},{"t":660,"Core":1.55,"Gate":2.4,"TM13":2.6,"TM14":3.5},{"t":665,"Core":1.45,"Gate":2.0,"TM13":2.3,"TM14":2.7},{"t":670,"Core":1.55,"Gate":2.2,"TM13":2.1,"TM14":3.2},{"t":675,"Core":1.4,"Gate":1.9,"TM13":2.4,"TM14":2.4},{"t":680,"Core":1.6,"Gate":1.7,"TM13":2.0,"TM14":2.0},{"t":685,"Core":1.5,"Gate":2.0,"TM13":2.2,"TM14":1.8},{"t":690,"Core":1.55,"Gate":1.6,"TM13":2.5,"TM14":2.6},{"t":695,"Core":1.65,"Gate":2.1,"TM13":2.2,"TM14":2.4},
{"t":700,"Core":1.5,"Gate":2.4,"TM13":2.6,"TM14":3.2},{"t":705,"Core":1.6,"Gate":2.2,"TM13":2.4,"TM14":2.6},{"t":710,"Core":1.5,"Gate":2.3,"TM13":2.0,"TM14":3.5},{"t":715,"Core":1.65,"Gate":2.0,"TM13":2.5,"TM14":2.5},{"t":720,"Core":1.55,"Gate":2.2,"TM13":2.2,"TM14":2.9},{"t":725,"Core":1.7,"Gate":2.1,"TM13":2.4,"TM14":2.4},{"t":730,"Core":1.85,"Gate":2.3,"TM13":2.0,"TM14":3.4},{"t":735,"Core":1.5,"Gate":1.9,"TM13":1.6,"TM14":2.2},{"t":740,"Core":1.4,"Gate":1.6,"TM13":1.15,"TM14":1.2},{"t":745,"Core":1.55,"Gate":2.0,"TM13":2.2,"TM14":2.6},
{"t":750,"Core":1.5,"Gate":2.2,"TM13":2.5,"TM14":3.1},{"t":755,"Core":1.6,"Gate":2.0,"TM13":2.3,"TM14":2.5},{"t":760,"Core":1.5,"Gate":2.3,"TM13":2.6,"TM14":3.2},{"t":765,"Core":1.6,"Gate":2.1,"TM13":2.2,"TM14":2.4},{"t":770,"Core":1.55,"Gate":2.4,"TM13":2.8,"TM14":3.4},{"t":775,"Core":1.65,"Gate":2.1,"TM13":2.4,"TM14":2.7},{"t":780,"Core":1.5,"Gate":2.3,"TM13":2.7,"TM14":3.2},{"t":785,"Core":1.6,"Gate":1.9,"TM13":2.2,"TM14":2.6},{"t":790,"Core":1.7,"Gate":2.2,"TM13":2.9,"TM14":3.6},{"t":795,"Core":1.55,"Gate":1.7,"TM13":2.0,"TM14":2.3},
{"t":800,"Core":1.45,"Gate":1.5,"TM13":1.7,"TM14":1.8},{"t":805,"Core":1.65,"Gate":2.2,"TM13":2.8,"TM14":4.3},{"t":810,"Core":1.6,"Gate":2.4,"TM13":3.0,"TM14":3.6},{"t":815,"Core":1.75,"Gate":2.3,"TM13":3.2,"TM14":4.4},{"t":820,"Core":1.65,"Gate":2.5,"TM13":2.9,"TM14":3.8},{"t":825,"Core":1.8,"Gate":2.45,"TM13":3.3,"TM14":4.5},{"t":830,"Core":1.7,"Gate":2.6,"TM13":3.1,"TM14":4.2},{"t":835,"Core":1.85,"Gate":2.75,"TM13":3.4,"TM14":4.7},{"t":840,"Core":1.75,"Gate":2.6,"TM13":3.2,"TM14":5.0},{"t":845,"Core":1.9,"Gate":2.7,"TM13":3.3,"TM14":4.4},
{"t":850,"Core":1.8,"Gate":2.5,"TM13":3.1,"TM14":4.8},{"t":855,"Core":1.9,"Gate":2.4,"TM13":3.0,"TM14":3.8},{"t":860,"Core":1.75,"Gate":2.3,"TM13":3.2,"TM14":4.2},{"t":865,"Core":1.85,"Gate":2.45,"TM13":2.8,"TM14":3.6},{"t":870,"Core":1.8,"Gate":2.2,"TM13":3.0,"TM14":4.0},{"t":875,"Core":1.9,"Gate":2.35,"TM13":2.6,"TM14":3.5},{"t":880,"Core":1.75,"Gate":2.2,"TM13":2.9,"TM14":3.9},{"t":885,"Core":1.85,"Gate":2.4,"TM13":2.7,"TM14":3.7},{"t":890,"Core":1.7,"Gate":2.2,"TM13":2.9,"TM14":4.1},{"t":895,"Core":1.85,"Gate":2.3,"TM13":2.6,"TM14":3.6},
{"t":900,"Core":1.75,"Gate":2.4,"TM13":2.8,"TM14":4.4},{"t":905,"Core":1.8,"Gate":2.2,"TM13":2.6,"TM14":3.8},{"t":910,"Core":2.0,"Gate":2.6,"TM13":2.9,"TM14":4.2},{"t":915,"Core":1.75,"Gate":2.2,"TM13":2.5,"TM14":3.5},{"t":920,"Core":1.65,"Gate":2.0,"TM13":2.8,"TM14":3.9},{"t":925,"Core":1.75,"Gate":2.2,"TM13":2.5,"TM14":3.2},{"t":930,"Core":1.6,"Gate":2.0,"TM13":2.3,"TM14":3.7},{"t":935,"Core":1.7,"Gate":2.3,"TM13":2.6,"TM14":3.1},{"t":940,"Core":1.55,"Gate":2.1,"TM13":2.4,"TM14":4.5},{"t":945,"Core":1.7,"Gate":2.4,"TM13":2.8,"TM14":3.4},
{"t":950,"Core":1.6,"Gate":2.2,"TM13":2.3,"TM14":2.6},{"t":955,"Core":1.5,"Gate":1.9,"TM13":2.0,"TM14":2.2},{"t":960,"Core":1.35,"Gate":1.6,"TM13":1.7,"TM14":1.6},{"t":965,"Core":1.5,"Gate":1.8,"TM13":2.0,"TM14":1.9},{"t":970,"Core":1.6,"Gate":1.9,"TM13":1.8,"TM14":2.3},{"t":975,"Core":1.45,"Gate":1.7,"TM13":2.1,"TM14":1.7},{"t":980,"Core":1.55,"Gate":1.5,"TM13":1.7,"TM14":2.0},{"t":985,"Core":1.4,"Gate":1.6,"TM13":1.9,"TM14":1.5},{"t":990,"Core":1.5,"Gate":1.4,"TM13":1.6,"TM14":1.9},{"t":995,"Core":1.55,"Gate":1.5,"TM13":2.2,"TM14":1.6},{"t":1000,"Core":1.5,"Gate":1.45,"TM13":1.7,"TM14":2.3}
  ]
},
"concat": [
  {
    "width": 239, "height": 162,
    "title": {"text": "a", "offset": -8},
    "layer": [
      {
        "encoding": {
          "x": {"field": "x", "type": "quantitative", "scale": {"domain": [0, 3], "nice": false}, "axis": {"title": "Time (µs)", "values": [0, 1, 2, 3], "format": "d"}},
          "y": {"field": "y", "type": "quantitative", "scale": {"domain": [0.75, 1.0], "nice": false, "zero": false}, "axis": {"title": "V(t)/V(0)", "values": [0.8, 0.9, 1.0], "format": ".1f"}}
        },
        "layer": [
          {"data": {"name": "a_trace"}, "mark": {"type": "line", "color": "#333333", "strokeWidth": 1.5}},
          {"data": {"name": "a_fit"}, "mark": {"type": "line", "color": "#E3211C", "strokeWidth": 1.6}}
        ]
      },
      {"data": {"values": [{}]}, "mark": {"type": "text", "text": ["K353R1", "(detergent)"], "align": "center", "baseline": "top", "lineHeight": 19.5},
       "encoding": {"x": {"datum": 2.485, "type": "quantitative", "scale": {"domain": [0, 3], "nice": false}}, "y": {"datum": 1.0042, "type": "quantitative", "scale": {"domain": [0.75, 1.0], "nice": false, "zero": false}}}}
    ]
  },
  {
    "width": 239, "height": 162,
    "data": {"values": []},
    "mark": {"type": "point"},
    "encoding": {}
  },
  {
    "width": 239, "height": 163,
    "title": {"text": "b", "offset": -11},
    "layer": [
      {
        "encoding": {
          "x": {"field": "x", "type": "quantitative", "scale": {"domain": [0, 4], "nice": false}, "axis": {"title": "Time (µs)", "values": [0, 1, 2, 3, 4], "format": "d"}},
          "y": {"field": "y", "type": "quantitative", "scale": {"domain": [0.8, 1.0], "nice": false, "zero": false}, "axis": {"title": "F(t)/F(0)", "values": [0.8, 0.9, 1.0], "format": ".1f"}}
        },
        "layer": [
          {"data": {"name": "b_trace"}, "mark": {"type": "line", "color": "#333333", "strokeWidth": 1.4}},
          {"data": {"name": "b_green"}, "mark": {"type": "line", "color": "#3DAA5A", "strokeWidth": 2}},
          {"data": {"name": "b_pink"}, "mark": {"type": "line", "color": "#E0358C", "strokeWidth": 2.5, "strokeDash": [4, 3]}}
        ]
      },
      {"data": {"values": [{}]}, "mark": {"type": "text", "text": "K353R1", "align": "center", "baseline": "middle"},
       "encoding": {"x": {"datum": 3.464, "type": "quantitative", "scale": {"domain": [0, 4], "nice": false}}, "y": {"datum": 0.991, "type": "quantitative", "scale": {"domain": [0.8, 1.0], "nice": false, "zero": false}}}}
    ]
  },
  {
    "width": 239, "height": 163,
    "encoding": {
      "x": {"field": "x", "type": "quantitative", "scale": {"domain": [1.5, 7], "nice": false, "zero": false}, "axis": {"title": "Distance (nm)", "values": [2, 3, 4, 5, 6, 7], "format": "d"}},
      "y": {"field": "y", "type": "quantitative", "scale": {"domain": [0, 1.1], "nice": false}, "axis": {"title": "P(r)", "domain": false, "ticks": false, "labels": false, "titlePadding": 26}}
    },
    "layer": [
      {"data": {"name": "bd_green"}, "mark": {"type": "line", "color": "#3DAA5A", "strokeWidth": 2}},
      {"data": {"name": "bd_pink"}, "mark": {"type": "line", "color": "#E0358C", "strokeWidth": 2.5, "strokeDash": [4, 3]}}
    ]
  },
  {
    "width": 239, "height": 163,
    "title": {"text": "c", "offset": -13.7},
    "layer": [
      {
        "encoding": {
          "x": {"field": "x", "type": "quantitative", "scale": {"domain": [0, 4], "nice": false}, "axis": {"title": "Time (µs)", "values": [0, 1, 2, 3, 4], "format": "d"}},
          "y": {"field": "y", "type": "quantitative", "scale": {"domain": [0.6, 1.0], "nice": false, "zero": false}, "axis": {"title": "F(t)/F(0)", "values": [0.6, 0.7, 0.8, 0.9, 1.0], "format": ".1f"}}
        },
        "layer": [
          {"data": {"name": "c_trace"}, "mark": {"type": "line", "color": "#333333", "strokeWidth": 1.4}},
          {"data": {"name": "c_green"}, "mark": {"type": "line", "color": "#3DAA5A", "strokeWidth": 2}},
          {"data": {"name": "c_pink"}, "mark": {"type": "line", "color": "#E0358C", "strokeWidth": 2.5, "strokeDash": [4, 3]}}
        ]
      },
      {"data": {"values": [{}]}, "mark": {"type": "text", "text": "V367R1", "align": "center", "baseline": "middle"},
       "encoding": {"x": {"datum": 3.48, "type": "quantitative", "scale": {"domain": [0, 4], "nice": false}}, "y": {"datum": 0.973, "type": "quantitative", "scale": {"domain": [0.6, 1.0], "nice": false, "zero": false}}}}
    ]
  },
  {
    "width": 239, "height": 163,
    "encoding": {
      "x": {"field": "x", "type": "quantitative", "scale": {"domain": [1.5, 7], "nice": false, "zero": false}, "axis": {"title": "Distance (nm)", "values": [2, 3, 4, 5, 6, 7], "format": "d"}},
      "y": {"field": "y", "type": "quantitative", "scale": {"domain": [0, 1.05], "nice": false}, "axis": {"title": "P(r)", "domain": false, "ticks": false, "labels": false, "titlePadding": 26}}
    },
    "layer": [
      {"data": {"name": "cd_green"}, "mark": {"type": "line", "color": "#3DAA5A", "strokeWidth": 2}},
      {"data": {"name": "cd_pink"}, "mark": {"type": "line", "color": "#E0358C", "strokeWidth": 2.5, "strokeDash": [4, 3]}}
    ]
  },
  {
    "width": 239, "height": 163,
    "title": {"text": "d", "offset": -11},
    "layer": [
      {
        "encoding": {
          "x": {"field": "x", "type": "quantitative", "scale": {"domain": [0, 1], "nice": false}, "axis": {"title": "Time (µs)", "values": [0, 0.5, 1], "format": ".1f"}},
          "y": {"field": "y", "type": "quantitative", "scale": {"domain": [0.65, 1.0], "nice": false, "zero": false}, "axis": {"title": "F(t)/F(0)", "values": [0.7, 0.8, 0.9, 1.0], "format": ".1f"}}
        },
        "layer": [
          {"data": {"name": "d_trace"}, "mark": {"type": "line", "color": "#333333", "strokeWidth": 1.4}},
          {"data": {"name": "d_fit"}, "mark": {"type": "line", "color": "#3DAA5A", "strokeWidth": 2}},
          {"data": {"name": "d_fit"}, "mark": {"type": "line", "color": "#E0358C", "strokeWidth": 2.5, "strokeDash": [4, 3]}}
        ]
      },
      {"data": {"values": [{}]}, "mark": {"type": "text", "text": "L385R1", "align": "center", "baseline": "middle"},
       "encoding": {"x": {"datum": 0.87, "type": "quantitative", "scale": {"domain": [0, 1], "nice": false}}, "y": {"datum": 0.998, "type": "quantitative", "scale": {"domain": [0.65, 1.0], "nice": false, "zero": false}}}}
    ]
  },
  {
    "width": 239, "height": 163,
    "encoding": {
      "x": {"field": "x", "type": "quantitative", "scale": {"domain": [1.5, 7], "nice": false, "zero": false}, "axis": {"title": "Distance (nm)", "values": [2, 3, 4, 5, 6, 7], "format": "d"}},
      "y": {"field": "y", "type": "quantitative", "scale": {"domain": [0, 1.03], "nice": false}, "axis": {"title": "P(r)", "domain": false, "ticks": false, "labels": false, "titlePadding": 26}}
    },
    "layer": [
      {"data": {"name": "dd_green"}, "mark": {"type": "line", "color": "#3DAA5A", "strokeWidth": 2}},
      {"data": {"name": "dd_pink"}, "mark": {"type": "line", "color": "#E0358C", "strokeWidth": 2.5, "strokeDash": [4, 3]}}
    ]
  },
  {
    "width": 239, "height": 146,
    "title": {"text": "e", "offset": -17},
    "data": {"name": "e"},
    "encoding": {
      "x": {"field": "t", "type": "quantitative", "scale": {"domain": [0, 1000], "nice": false, "range": [0, 564]}, "axis": {"title": "Time (ns)", "values": [0, 100, 200, 300, 400, 500, 600, 700, 800, 900, 1000], "format": "d", "labelPadding": 9, "titlePadding": 9}}
    },
    "layer": [
      {"mark": {"type": "line", "strokeWidth": 1.3}, "encoding": {
        "y": {"field": "TM14", "type": "quantitative", "scale": {"domain": [0, 6], "nice": false}, "axis": {"title": "RMSD (Å)", "values": [0, 1, 2, 3, 4, 5, 6], "format": "d", "labelPadding": 8, "titlePadding": 19}},
        "color": {"datum": "TM14", "scale": {"domain": ["Core", "Gate", "TM13", "TM14"], "range": ["#F8B32B", "#9A9A9A", "#82AEDD", "#9AD7D9"]},
          "legend": {"title": null, "orient": "none", "legendX": 443, "legendY": -21, "columns": 2, "symbolType": "stroke", "symbolSize": 225, "symbolStrokeWidth": 2.5, "labelFontSize": 13.5, "labelFont": "Liberation Sans", "labelColor": "#222", "columnPadding": 14, "rowPadding": 0, "labelOffset": 5, "padding": 0}}}},
      {"mark": {"type": "line", "strokeWidth": 1.4}, "encoding": {"y": {"field": "TM13", "type": "quantitative", "axis": {"title": "RMSD (Å)"}}, "color": {"datum": "TM13"}}},
      {"mark": {"type": "line", "strokeWidth": 2.2}, "encoding": {"y": {"field": "Gate", "type": "quantitative", "axis": {"title": "RMSD (Å)"}}, "color": {"datum": "Gate"}}},
      {"mark": {"type": "line", "strokeWidth": 1.8}, "encoding": {"y": {"field": "Core", "type": "quantitative", "axis": {"title": "RMSD (Å)"}}, "color": {"datum": "Core"}}}
    ]
  }
]
}
